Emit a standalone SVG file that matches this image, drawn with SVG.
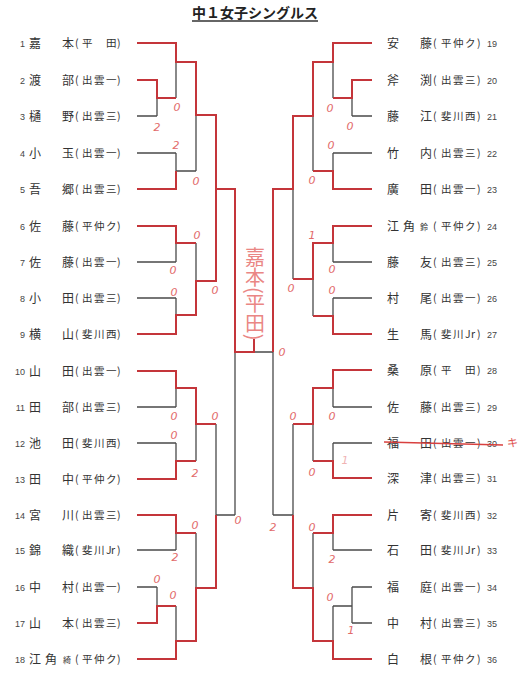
<svg xmlns="http://www.w3.org/2000/svg" width="520" height="679" viewBox="0 0 520 679">
<style>
.ln{fill:none;stroke:#4a4a4a;stroke-width:1.3}
.rd{fill:none;stroke:#c4353a;stroke-width:2}
.nm{font-family:"Noto Sans CJK JP","Noto Sans",sans-serif;font-size:12px;fill:#333}
.sm{font-family:"Noto Sans CJK JP","Noto Sans",sans-serif;font-size:8px;fill:#333}
.af{font-family:"Noto Sans CJK JP","Noto Sans",sans-serif;font-size:10.5px;fill:#333}
.no{font-family:"Liberation Sans",sans-serif;font-size:9px;fill:#444}
.sc{font-family:"DejaVu Sans",sans-serif;font-style:italic;font-size:11px;fill:#e26a6a;text-anchor:middle}
.hw{font-family:"Noto Sans CJK JP",sans-serif;fill:#ea8684}
</style>
<rect width="520" height="679" fill="#ffffff"/>
<g id="title">
<text x="255" y="18" font-family="Noto Sans CJK JP,sans-serif" font-size="14" font-weight="bold" fill="#222" text-anchor="middle" textLength="126" lengthAdjust="spacing">中１女子シングルス</text>
<line x1="192" y1="21" x2="318" y2="21" stroke="#333" stroke-width="1.3"/>
</g>
<g id="connectors">
<path class="ln" d="M137,43H176 M137,80H157 M137,116H157 M157,80V116 M157,98H176 M176,43V98 M176,62H196
M137,153H176 M137,189H176 M176,153V189 M176,171H196 M196,62V171 M196,115H216
M137,226H176 M137,262H176 M176,226V262 M176,243H196
M137,298H176 M137,334H176 M176,298V334 M176,315H196 M196,243V315 M196,281H216
M216,115V281 M216,189H235
M137,371H176 M137,407H176 M176,371V407 M176,388H196
M137,443H176 M137,479H176 M176,443V479 M176,461H196 M196,388V461 M196,424H216
M137,515H176 M137,550H176 M176,515V550 M176,533H196
M137,587H157 M137,623H157 M157,587V623 M157,606H176 M137,659H176 M176,606V659 M176,641H196
M196,533V641 M196,588H216 M216,424V588 M216,515H235
M235,189V515 M235,352H273 M254,339V352"/>
<path class="ln" d="M372,43H333 M372,80H352 M372,116H352 M352,80V116 M352,98H333 M333,43V98 M333,62H313
M372,153H333 M372,189H333 M333,153V189 M333,171H313 M313,62V171 M313,116H293
M372,226H333 M372,262H333 M333,226V262 M333,243H313
M372,298H333 M372,334H333 M333,298V334 M333,316H313 M313,243V316 M313,279H293
M293,116V279 M293,189H273
M372,370H333 M372,407H333 M333,370V407 M333,388H313
M372,443H333 M372,478H333 M333,443V478 M333,461H313 M313,388V461 M313,424H293
M372,515H333 M372,550H333 M333,515V550 M333,533H313
M372,587H352 M372,623H352 M352,587V623 M352,606H333 M372,659H333 M333,606V659 M333,641H313
M313,533V641 M313,588H293 M293,424V588 M293,515H273
M273,189V515"/>
<path class="rd" d="M137,43H176V62H196V115H216V189H235V352H254V339
M137,80H157V98H176
M137,189H176V171
M137,226H176V243H196
M137,334H176V315H196V281H216V189
M137,371H176V388H196V424H216
M137,479H176V461H196
M137,515H176V533H196
M137,623H157V606H176
M137,659H176V641H196V588H216V515"/>
<path class="rd" d="M372,43H333V62H313V116H293V189H273V352
M372,80H352V98H333
M372,189H333V171H313
M372,226H333V243H313V279H293
M372,334H333V316H313
M372,370H333V388H313V424H293
M372,478H333V461H313
M372,515H333V533H313
M372,659H333V641H313V588H293V515"/>
</g>
<g id="left">
<g id="p1"><text class="no" x="25" y="46.5" text-anchor="end">1</text><text class="nm" x="29" y="47.5">嘉</text><text class="nm" x="62" y="47.5">本</text><text class="af" x="75 82 94 106 117" y="47">(平　田)</text></g>
<g id="p2"><text class="no" x="25" y="83.5" text-anchor="end">2</text><text class="nm" x="29" y="84.5">渡</text><text class="nm" x="62" y="84.5">部</text><text class="af" x="75 82 94 106 117" y="84">(出雲一)</text></g>
<g id="p3"><text class="no" x="25" y="119.5" text-anchor="end">3</text><text class="nm" x="29" y="120.5">樋</text><text class="nm" x="62" y="120.5">野</text><text class="af" x="75 82 94 106 117" y="120">(出雲三)</text></g>
<g id="p4"><text class="no" x="25" y="156.5" text-anchor="end">4</text><text class="nm" x="29" y="157.5">小</text><text class="nm" x="62" y="157.5">玉</text><text class="af" x="75 82 94 106 117" y="157">(出雲一)</text></g>
<g id="p5"><text class="no" x="25" y="192.5" text-anchor="end">5</text><text class="nm" x="29" y="193.5">吾</text><text class="nm" x="62" y="193.5">郷</text><text class="af" x="75 82 94 106 117" y="193">(出雲三)</text></g>
<g id="p6"><text class="no" x="25" y="229.5" text-anchor="end">6</text><text class="nm" x="29" y="230.5">佐</text><text class="nm" x="62" y="230.5">藤</text><text class="af" x="75 82 94 106 117" y="230">(平仲ク)</text></g>
<g id="p7"><text class="no" x="25" y="265.5" text-anchor="end">7</text><text class="nm" x="29" y="266.5">佐</text><text class="nm" x="62" y="266.5">藤</text><text class="af" x="75 82 94 106 117" y="266">(出雲一)</text></g>
<g id="p8"><text class="no" x="25" y="301.5" text-anchor="end">8</text><text class="nm" x="29" y="302.5">小</text><text class="nm" x="62" y="302.5">田</text><text class="af" x="75 82 94 106 117" y="302">(出雲三)</text></g>
<g id="p9"><text class="no" x="25" y="337.5" text-anchor="end">9</text><text class="nm" x="29" y="338.5">横</text><text class="nm" x="62" y="338.5">山</text><text class="af" x="75 82 94 106 117" y="338">(斐川西)</text></g>
<g id="p10"><text class="no" x="25" y="374.5" text-anchor="end">10</text><text class="nm" x="29" y="375.5">山</text><text class="nm" x="62" y="375.5">田</text><text class="af" x="75 82 94 106 117" y="375">(出雲一)</text></g>
<g id="p11"><text class="no" x="25" y="410.5" text-anchor="end">11</text><text class="nm" x="29" y="411.5">田</text><text class="nm" x="62" y="411.5">部</text><text class="af" x="75 82 94 106 117" y="411">(出雲三)</text></g>
<g id="p12"><text class="no" x="25" y="446.5" text-anchor="end">12</text><text class="nm" x="29" y="447.5">池</text><text class="nm" x="62" y="447.5">田</text><text class="af" x="75 82 94 106 117" y="447">(斐川西)</text></g>
<g id="p13"><text class="no" x="25" y="482.5" text-anchor="end">13</text><text class="nm" x="29" y="483.5">田</text><text class="nm" x="62" y="483.5">中</text><text class="af" x="75 82 94 106 117" y="483">(平仲ク)</text></g>
<g id="p14"><text class="no" x="25" y="518.5" text-anchor="end">14</text><text class="nm" x="29" y="519.5">宮</text><text class="nm" x="62" y="519.5">川</text><text class="af" x="75 82 94 106 117" y="519">(出雲三)</text></g>
<g id="p15"><text class="no" x="25" y="553.5" text-anchor="end">15</text><text class="nm" x="29" y="554.5">錦</text><text class="nm" x="62" y="554.5">織</text><text class="af" x="75 82 94 106 111 117" y="554">(斐川Jr)</text></g>
<g id="p16"><text class="no" x="25" y="590.5" text-anchor="end">16</text><text class="nm" x="29" y="591.5">中</text><text class="nm" x="62" y="591.5">村</text><text class="af" x="75 82 94 106 117" y="591">(出雲一)</text></g>
<g id="p17"><text class="no" x="25" y="626.5" text-anchor="end">17</text><text class="nm" x="29" y="627.5">山</text><text class="nm" x="62" y="627.5">本</text><text class="af" x="75 82 94 106 117" y="627">(出雲三)</text></g>
<g id="p18"><text class="no" x="25" y="662.5" text-anchor="end">18</text><text class="nm" x="29" y="663.5">江</text><text class="nm" x="45" y="663.5">角</text><text class="sm" x="63" y="663">綺</text><text class="af" x="75 82 94 106 117" y="663">(平仲ク)</text></g>
</g>
<g id="right">
<g id="p19"><text class="nm" x="387" y="47.5">安</text><text class="nm" x="420" y="47.5">藤</text><text class="af" x="433 441 453 465 477" y="47">(平仲ク)</text><text class="no" x="487" y="46.5">19</text></g>
<g id="p20"><text class="nm" x="387" y="84.5">斧</text><text class="nm" x="420" y="84.5">渕</text><text class="af" x="433 441 453 465 477" y="84">(出雲三)</text><text class="no" x="487" y="83.5">20</text></g>
<g id="p21"><text class="nm" x="387" y="120.5">藤</text><text class="nm" x="420" y="120.5">江</text><text class="af" x="433 441 453 465 477" y="120">(斐川西)</text><text class="no" x="487" y="119.5">21</text></g>
<g id="p22"><text class="nm" x="387" y="157.5">竹</text><text class="nm" x="420" y="157.5">内</text><text class="af" x="433 441 453 465 477" y="157">(出雲三)</text><text class="no" x="487" y="156.5">22</text></g>
<g id="p23"><text class="nm" x="387" y="193.5">廣</text><text class="nm" x="420" y="193.5">田</text><text class="af" x="433 441 453 465 477" y="193">(出雲一)</text><text class="no" x="487" y="192.5">23</text></g>
<g id="p24"><text class="nm" x="387" y="230.5">江</text><text class="nm" x="403" y="230.5">角</text><text class="sm" x="420" y="230">鈴</text><text class="af" x="433 441 453 465 477" y="230">(平仲ク)</text><text class="no" x="487" y="229.5">24</text></g>
<g id="p25"><text class="nm" x="387" y="266.5">藤</text><text class="nm" x="420" y="266.5">友</text><text class="af" x="433 441 453 465 477" y="266">(出雲三)</text><text class="no" x="487" y="265.5">25</text></g>
<g id="p26"><text class="nm" x="387" y="302.5">村</text><text class="nm" x="420" y="302.5">尾</text><text class="af" x="433 441 453 465 477" y="302">(出雲一)</text><text class="no" x="487" y="301.5">26</text></g>
<g id="p27"><text class="nm" x="387" y="338.5">生</text><text class="nm" x="420" y="338.5">馬</text><text class="af" x="433 441 453 465 471 477" y="338">(斐川Jr)</text><text class="no" x="487" y="337.5">27</text></g>
<g id="p28"><text class="nm" x="387" y="374.5">桑</text><text class="nm" x="420" y="374.5">原</text><text class="af" x="433 441 453 465 477" y="374">(平　田)</text><text class="no" x="487" y="373.5">28</text></g>
<g id="p29"><text class="nm" x="387" y="411.5">佐</text><text class="nm" x="420" y="411.5">藤</text><text class="af" x="433 441 453 465 477" y="411">(出雲三)</text><text class="no" x="487" y="410.5">29</text></g>
<g id="p30"><text class="nm" x="387" y="447.5">福</text><text class="nm" x="420" y="447.5">田</text><text class="af" x="433 441 453 465 477" y="447">(出雲一)</text><text class="no" x="487" y="446.5">30</text><line x1="384" y1="442" x2="503" y2="445" stroke="#d8403f" stroke-width="1.3"/><text x="507" y="447" font-family="Noto Sans CJK JP,sans-serif" font-size="11" fill="#e0504e">キ</text></g>
<g id="p31"><text class="nm" x="387" y="482.5">深</text><text class="nm" x="420" y="482.5">津</text><text class="af" x="433 441 453 465 477" y="482">(出雲三)</text><text class="no" x="487" y="481.5">31</text></g>
<g id="p32"><text class="nm" x="387" y="519.5">片</text><text class="nm" x="420" y="519.5">寄</text><text class="af" x="433 441 453 465 477" y="519">(斐川西)</text><text class="no" x="487" y="518.5">32</text></g>
<g id="p33"><text class="nm" x="387" y="554.5">石</text><text class="nm" x="420" y="554.5">田</text><text class="af" x="433 441 453 465 471 477" y="554">(斐川Jr)</text><text class="no" x="487" y="553.5">33</text></g>
<g id="p34"><text class="nm" x="387" y="591.5">福</text><text class="nm" x="420" y="591.5">庭</text><text class="af" x="433 441 453 465 477" y="591">(出雲一)</text><text class="no" x="487" y="590.5">34</text></g>
<g id="p35"><text class="nm" x="387" y="627.5">中</text><text class="nm" x="420" y="627.5">村</text><text class="af" x="433 441 453 465 477" y="627">(出雲三)</text><text class="no" x="487" y="626.5">35</text></g>
<g id="p36"><text class="nm" x="387" y="663.5">白</text><text class="nm" x="420" y="663.5">根</text><text class="af" x="433 441 453 465 477" y="663">(平仲ク)</text><text class="no" x="487" y="662.5">36</text></g>
</g>
<g id="winner">
<text class="hw" x="255" y="247" font-size="20" writing-mode="vertical-rl">嘉本(平田)</text>
</g>
<g id="scores">
<text class="sc" x="177" y="111">0</text>
<text class="sc" x="157" y="131">2</text>
<text class="sc" x="176" y="149">2</text>
<text class="sc" x="196" y="185">0</text>
<text class="sc" x="197" y="239">0</text>
<text class="sc" x="173" y="274">0</text>
<text class="sc" x="174" y="296">0</text>
<text class="sc" x="215" y="294">0</text>
<text class="sc" x="174" y="420">0</text>
<text class="sc" x="215" y="420">0</text>
<text class="sc" x="174" y="439">0</text>
<text class="sc" x="195" y="477">2</text>
<text class="sc" x="195" y="529">0</text>
<text class="sc" x="238" y="524">0</text>
<text class="sc" x="175" y="561">2</text>
<text class="sc" x="157" y="583">0</text>
<text class="sc" x="173" y="599">0</text>
<text class="sc" x="330" y="112">0</text>
<text class="sc" x="350" y="130">0</text>
<text class="sc" x="331" y="149">0</text>
<text class="sc" x="312" y="184">0</text>
<text class="sc" x="312" y="239">1</text>
<text class="sc" x="332" y="273">0</text>
<text class="sc" x="291" y="292">0</text>
<text class="sc" x="332" y="294">0</text>
<text class="sc" x="282" y="356">0</text>
<text class="sc" x="293" y="420">0</text>
<text class="sc" x="332" y="420">0</text>
<text class="sc" x="345" y="464" opacity="0.5">1</text>
<text class="sc" x="312" y="476">0</text>
<text class="sc" x="273" y="531">2</text>
<text class="sc" x="312" y="531">0</text>
<text class="sc" x="332" y="563">2</text>
<text class="sc" x="330" y="601">0</text>
<text class="sc" x="351" y="634">1</text>
</g>
</svg>
